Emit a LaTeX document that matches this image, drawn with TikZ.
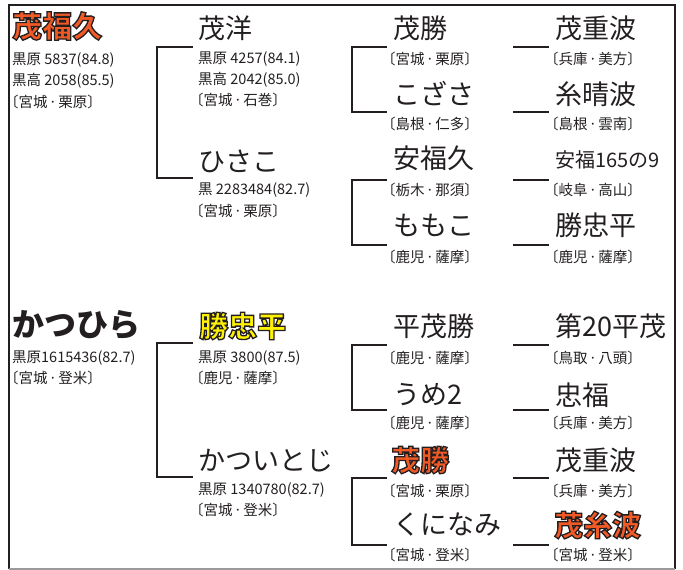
\documentclass[tikz,border=0pt]{standalone}
\usepackage{fontspec}
\setmainfont{Noto Sans CJK JP}
\definecolor{ink}{HTML}{231F20}
\definecolor{org}{HTML}{F15A24}
\definecolor{yel}{HTML}{FFF200}
\definecolor{framegray}{HTML}{9A9A9A}
% outlined text: fill colour #1, dark stroke, via PDF text render mode 2
\newcommand\outl[2]{\textcolor{#1}{\special{pdf:literal direct 2 Tr 1.3 w 0.137 0.122 0.125 RG}#2\special{pdf:literal direct 0 Tr 0.4 w}}}
\newcommand\dt{\kern1.3pt·\kern1.3pt}
\tikzset{
  nm/.style={anchor=west, inner sep=0pt, text=ink, font=\fontsize{27}{27}\selectfont},
  nmsmall/.style={anchor=west, inner sep=0pt, text=ink, font=\fontsize{20}{20}\selectfont},
  bignm/.style={anchor=west, inner sep=0pt, text=ink, font=\fontsize{32}{32}\selectfont\bfseries},
  hinm/.style={anchor=west, inner sep=0pt, font=\fontsize{29}{29}\selectfont\bfseries},
  sub/.style={anchor=west, inner sep=0pt, text=ink, font=\fontsize{14.5}{15}\selectfont},
  br/.style={draw=ink, line width=2pt},
  frm/.style={draw=ink, line width=2pt},
}
\begin{document}
\begin{tikzpicture}[x=1pt,y=-1pt]
\useasboundingbox (0,0) rectangle (683,570);
% frame
\coordinate (f1) at (8.5,569);
\coordinate (f2) at (8.5,5);
\coordinate (f3) at (674.5,5);
\coordinate (f4) at (674.5,569);
\draw[frm] (f1) -- (f2) -- (f3) -- (f4);
\draw[draw=framegray, line width=1.5pt] (f1) -- (f4);

% ===== top half =====
\node[hinm, font=\fontsize{30}{30}\selectfont\bfseries] (a1) at (12,26) {\outl{org}{茂福久}};
\node[sub] (a1s1) at (12,60) {黒原 5837(84.8)};
\node[sub] (a1s2) at (12,81) {黒高 2058(85.5)};
\node[sub] (a1s3) at (4,102) {〔宮城\dt 栗原〕};

\node[nm] (b1) at (198,28) {茂洋};
\node[sub] (b1s1) at (198,59) {黒原 4257(84.1)};
\node[sub] (b1s2) at (198,80) {黒高 2042(85.0)};
\node[sub] (b1s3) at (189,100) {〔宮城\dt 石巻〕};
\node[nm] (b2) at (198,161) {ひさこ};
\node[sub] (b2s1) at (198,190) {黒 2283484(82.7)};
\node[sub] (b2s2) at (189,211) {〔宮城\dt 栗原〕};

\node[nm] (c1) at (393,28) {茂勝};
\node[sub] (c1s) at (381,59) {〔宮城\dt 栗原〕};
\node[nm] (c2) at (393,94) {こざさ};
\node[sub] (c2s) at (381,124) {〔島根\dt 仁多〕};
\node[nm] (c3) at (393,158) {安福久};
\node[sub] (c3s) at (381,190) {〔栃木\dt 那須〕};
\node[nm] (c4) at (393,225) {ももこ};
\node[sub] (c4s) at (381,257) {〔鹿児\dt 薩摩〕};

\node[nm] (d1) at (555,28) {茂重波};
\node[sub] (d1s) at (544,59) {〔兵庫\dt 美方〕};
\node[nm] (d2) at (555,94) {糸晴波};
\node[sub] (d2s) at (544,124) {〔島根\dt 雲南〕};
\node[nmsmall] (d3) at (555,160) {安福165の9};
\node[sub] (d3s) at (544,190) {〔岐阜\dt 高山〕};
\node[nm] (d4) at (555,225) {勝忠平};
\node[sub] (d4s) at (544,257) {〔鹿児\dt 薩摩〕};

% ===== bottom half =====
\node[bignm] (e1) at (12,325) {かつひら};
\node[sub] (e1s1) at (12,358) {黒原1615436(82.7)};
\node[sub] (e1s2) at (4,378) {〔宮城\dt 登米〕};

\node[hinm] (g1) at (199,326) {\outl{yel}{勝忠平}};
\node[sub] (g1s1) at (198,358) {黒原 3800(87.5)};
\node[sub] (g1s2) at (189,378) {〔鹿児\dt 薩摩〕};
\node[nm] (g2) at (198,461) {かついとじ};
\node[sub] (g2s1) at (198,490) {黒原 1340780(82.7)};
\node[sub] (g2s2) at (189,510) {〔宮城\dt 登米〕};

\node[nm] (h1) at (393,326) {平茂勝};
\node[sub] (h1s) at (381,358) {〔鹿児\dt 薩摩〕};
\node[nm] (h2) at (393,395) {うめ2};
\node[sub] (h2s) at (381,423) {〔鹿児\dt 薩摩〕};
\node[hinm] (h3) at (391,460) {\outl{org}{茂勝}};
\node[sub] (h3s) at (381,491) {〔宮城\dt 栗原〕};
\node[nm] (h4) at (393,525) {くになみ};
\node[sub] (h4s) at (381,555) {〔宮城\dt 登米〕};

\node[nm] (k1) at (555,326) {第20平茂};
\node[sub] (k1s) at (544,358) {〔鳥取\dt 八頭〕};
\node[nm] (k2) at (555,395) {忠福};
\node[sub] (k2s) at (544,423) {〔兵庫\dt 美方〕};
\node[nm] (k3) at (555,460) {茂重波};
\node[sub] (k3s) at (544,491) {〔兵庫\dt 美方〕};
\node[hinm] (k4) at (554,525) {\outl{org}{茂糸波}};
\node[sub] (k4s) at (544,555) {〔宮城\dt 登米〕};

% ===== connectors =====
% column 2 brackets
\coordinate (p1a) at (193,47);  \coordinate (p1b) at (157,47);
\coordinate (p1c) at (157,178); \coordinate (p1d) at (193,178);
\draw[br] (p1a) -- (p1b) -- (p1c) -- (p1d);
\coordinate (p2a) at (193,343); \coordinate (p2b) at (157,343);
\coordinate (p2c) at (157,477); \coordinate (p2d) at (193,477);
\draw[br] (p2a) -- (p2b) -- (p2c) -- (p2d);
% column 3 brackets
\foreach \t/\b/\n in {47/112/q1, 180/245/q2, 345/410/q3, 478/545/q4}{
  \coordinate (\n a) at (387,\t); \coordinate (\n b) at (352,\t);
  \coordinate (\n c) at (352,\b); \coordinate (\n d) at (387,\b);
  \draw[br] (\n a) -- (\n b) -- (\n c) -- (\n d);
}
% column 4 lines
\foreach \y/\n in {47/r1, 112/r2, 180/r3, 245/r4, 345/r5, 410/r6, 478/r7, 545/r8}{
  \coordinate (\n a) at (513,\y); \coordinate (\n b) at (549,\y);
  \draw[br] (\n a) -- (\n b);
}
\end{tikzpicture}
\end{document}
